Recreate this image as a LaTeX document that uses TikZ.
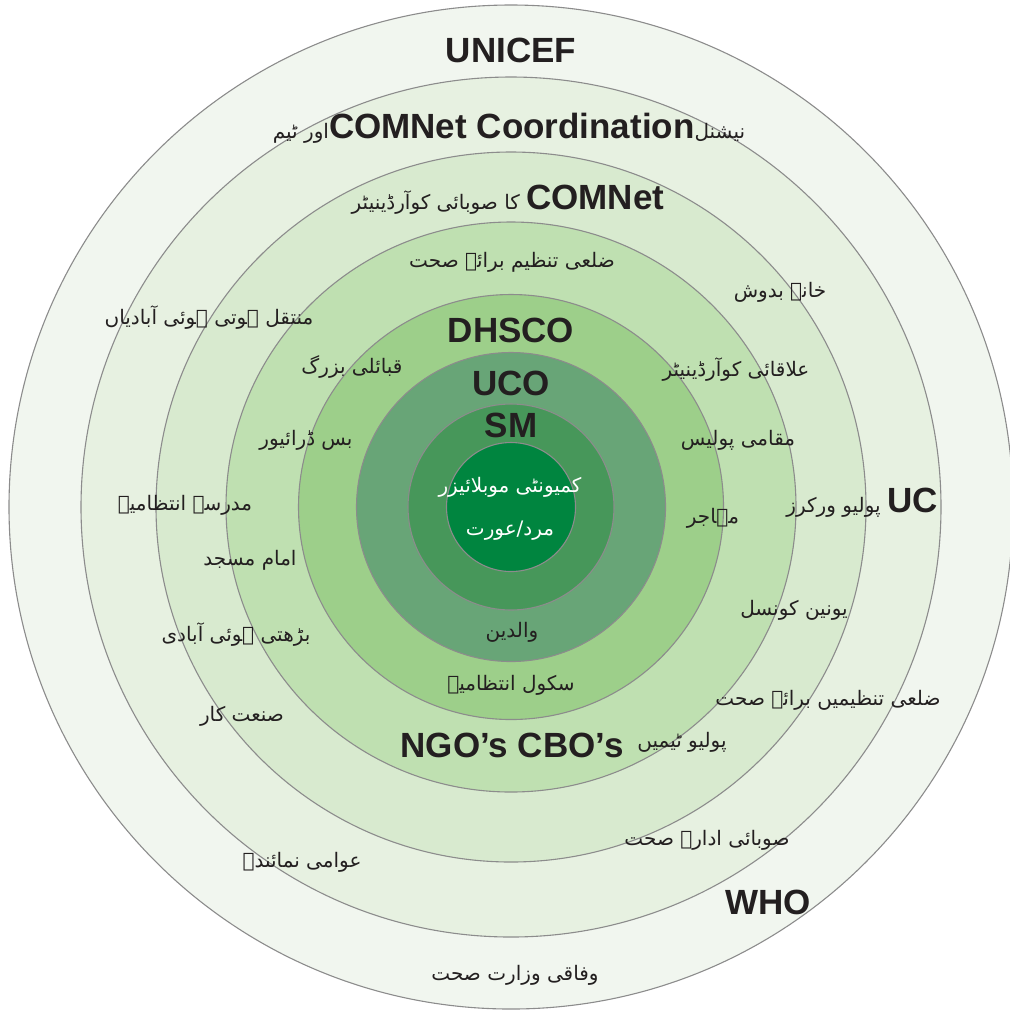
\documentclass[tikz,border=0pt]{standalone}
\usepackage{fontspec}
\setmainfont{Liberation Sans}
\newfontfamily\urdufont[Script=Arabic]{DejaVu Sans}
\TeXXeTstate=1
\definecolor{ringA}{HTML}{F1F6EF}
\definecolor{ringB}{HTML}{E7F1E1}
\definecolor{ringC}{HTML}{D8EACF}
\definecolor{ringD}{HTML}{BFE0B1}
\definecolor{ringE}{HTML}{9DCF8A}
\definecolor{ringF}{HTML}{68A577}
\definecolor{ringG}{HTML}{47975A}
\definecolor{ringH}{HTML}{00853F}
\definecolor{ringline}{HTML}{8C8C8C}
\definecolor{inktext}{HTML}{231F20}
\newcommand{\ur}[1]{\beginR #1\endR}
\newcommand{\en}[1]{\beginL{\fontsize{17.5}{20}\selectfont\normalfont\bfseries #1}\endL}

\begin{document}
\begin{tikzpicture}[x=0.5pt,y=-0.5pt,
  ring/.style={draw=ringline, line width=0.55pt},
  eng/.style={font=\fontsize{17.5}{20}\selectfont\bfseries, text=inktext, inner sep=0pt},
  urd/.style={font=\urdufont\fontsize{10}{12}\selectfont, text=inktext, inner sep=0pt},
  core/.style={font=\urdufont\fontsize{10}{21.5}\selectfont, text=white, align=center, inner sep=0pt}
]
\useasboundingbox (0,0) rectangle (1010,1009);
\coordinate (c) at (511,507);
% rings, outside in
\foreach \r/\col in {502/ringA,430/ringB,355/ringC,285/ringD,212.5/ringE,154.5/ringF,103/ringG,64.5/ringH}
  \filldraw[ring, fill=\col] (c) circle[radius={\r*0.5pt}];

% outer ring
\node[eng] (unicef) at (511,50) {UNICEF};
\node[urd] (natcoord) at (509,128) {\ur{نیشنل\en{COMNet Coordination}اور ٹیم}};
\node[urd] (federal) at (515,975) {\ur{وفاقی وزارت صحت}};
\node[eng] (who) at (768,902) {WHO};
\node[urd] (elected) at (302,862) {\ur{عوامی نمائندے}};
\node[urd] (uc) at (862,503) {\ur{\en{UC} پولیو ورکرز}};

% second ring
\node[urd] (provcoord) at (508,200) {\ur{\en{COMNet} کا صوبائی کوآرڈینیٹر}};
\node[urd] (migrant) at (209,318) {\ur{منتقل ہوتی ہوئی آبادیاں}};
\node[urd] (nomad) at (780,292) {\ur{خانہ بدوش}};
\node[urd] (madrasa) at (185,505) {\ur{مدرسہ انتظامیہ}};
\node[urd] (growing) at (236,635) {\ur{بڑھتی ہوئی آبادی}};
\node[urd] (industry) at (242,716) {\ur{صنعت کار}};
\node[urd] (distorgs) at (828,700) {\ur{ضلعی تنظیمیں برائے صحت}};
\node[urd] (provhealth) at (707,840) {\ur{صوبائی ادارہ صحت}};

% third ring
\node[urd] (disthealth) at (512,262) {\ur{ضلعی تنظیم برائے صحت}};
\node[urd] (areacoord) at (736,370) {\ur{علاقائی کوآرڈینیٹر}};
\node[urd] (police) at (738,440) {\ur{مقامی پولیس}};
\node[urd] (council) at (794,610) {\ur{یونین کونسل}};
\node[urd] (imam) at (250,560) {\ur{امام مسجد}};
\node[urd] (polioteam) at (682,742) {\ur{پولیو ٹیمیں}};
\node[eng] (ngo) at (512,745) {NGO’s CBO’s};

% fourth ring
\node[eng] (dhsco) at (511,330) {DHSCO};
\node[urd] (elders) at (352,367) {\ur{قبائلی بزرگ}};
\node[urd] (driver) at (306,440) {\ur{بس ڈرائیور}};
\node[urd] (refugee) at (713,518) {\ur{مہاجر}};
\node[urd] (school) at (511,685) {\ur{سکول انتظامیہ}};

% inner rings
\node[eng] (uco) at (511,383) {UCO};
\node[eng] (sm) at (511,425) {SM};
\node[urd] (parents) at (512,632) {\ur{والدین}};
\node[core] (cm) at (510,509) {\ur{کمیونٹی موبلائیزر}\\\ur{مرد/عورت}};
\end{tikzpicture}
\end{document}
